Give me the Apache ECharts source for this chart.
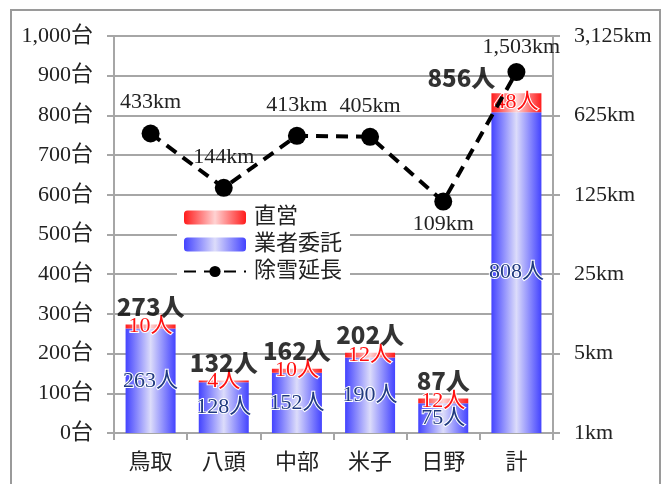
<!DOCTYPE html>
<html>
<head>
<meta charset="utf-8">
<script src="https://cdn.jsdelivr.net/npm/echarts@6/dist/echarts.min.js"></script>
<style>
  html, body { margin: 0; padding: 0; background: #fff; }
  #chart { width: 671px; height: 484px; }
</style>
</head>
<body>
<div id="chart"></div>
<script>
// Snow removal: vehicles by contract type per district, plus plowed road length
const districts = ['鳥取', '八頭', '中部', '米子', '日野', '計'];
const contracted = [263, 128, 152, 190, 75, 808];   // 業者委託
const direct = [10, 4, 10, 12, 12, 48];             // 直営
const roadKm = [433, 144, 413, 405, 109, 1503];     // 除雪延長
const leftTicks = [0, 100, 200, 300, 400, 500, 600, 700, 800, 900, 1000];
const rightTicks = [1, 5, 25, 125, 625, 3125];

const totals = districts.map((_, i) => contracted[i] + direct[i]);

const serif = '"Liberation Serif", "DejaVu Serif", "Noto Sans CJK JP", serif';
const gothic = '"Noto Sans CJK JP", "DejaVu Sans", sans-serif';
const fmt = v => Number(v).toLocaleString('en-US');
const gray = '#a6a6a6';

function hGrad(edge, mid) {
  return new echarts.graphic.LinearGradient(0, 0, 1, 0, [
    { offset: 0, color: edge },
    { offset: 0.5, color: mid },
    { offset: 1, color: edge }
  ]);
}

const chart = echarts.init(document.getElementById('chart'), null, { renderer: 'canvas' });

chart.setOption({
  animation: false,
  backgroundColor: '#fff',
  graphic: [{
    type: 'rect',
    shape: { x: 11, y: 10, width: 649, height: 500 },
    style: { fill: 'none', stroke: '#9a9a9a', lineWidth: 2 },
    silent: true,
    z: 0
  }],
  grid: { left: 114, right: 118, top: 36, bottom: 51, containLabel: false },
  legend: {
    left: 177,
    top: 202,
    orient: 'vertical',
    backgroundColor: '#fff',
    padding: [3, 8, 3, 6],
    itemWidth: 62,
    itemHeight: 14,
    itemGap: 2,
    textStyle: { fontFamily: serif, fontSize: 22, color: '#222', lineHeight: 25, padding: [0, 0, 0, 3] },
    data: [
      { name: '直営' },
      { name: '業者委託' },
      { name: '除雪延長' }
    ]
  },
  xAxis: {
    type: 'category',
    data: districts,
    axisLine: { show: true, lineStyle: { color: gray, width: 2 } },
    axisTick: { show: true, length: 7, lineStyle: { color: gray, width: 2 } },
    axisLabel: { fontFamily: gothic, fontSize: 22, color: '#222', margin: 17 }
  },
  yAxis: [
    {
      type: 'value',
      min: 0,
      max: 1000,
      interval: 100,
      axisLine: { show: true, lineStyle: { color: gray, width: 2 } },
      axisTick: { show: true, length: 7, lineStyle: { color: gray, width: 2 } },
      splitLine: { show: true, lineStyle: { color: gray, width: 2 } },
      axisLabel: {
        fontFamily: serif, fontSize: 22, color: '#222', margin: 21,
        formatter: v => leftTicks.includes(v) ? fmt(v) + '台' : ''
      }
    },
    {
      type: 'log',
      logBase: 5,
      min: 1,
      max: 3125,
      position: 'right',
      axisLine: { show: true, lineStyle: { color: gray, width: 2 } },
      axisTick: { show: true, length: 7, lineStyle: { color: gray, width: 2 } },
      splitLine: { show: false },
      axisLabel: {
        fontFamily: serif, fontSize: 22, color: '#222', margin: 21,
        formatter: v => rightTicks.includes(Math.round(v)) ? fmt(Math.round(v)) + 'km' : ''
      }
    }
  ],
  series: [
    {
      name: '業者委託',
      type: 'bar',
      stack: 'cars',
      barWidth: 50,
      data: contracted,
      itemStyle: { color: hGrad('#4343ff', '#dcdcfa') },
      label: {
        show: true, position: 'inside',
        formatter: p => p.value + '人',
        fontFamily: serif, fontSize: 22, color: '#203a80',
        textBorderColor: '#fff', textBorderWidth: 2
      },
      z: 2
    },
    {
      name: '直営',
      type: 'bar',
      stack: 'cars',
      barWidth: 50,
      data: direct,
      itemStyle: { color: hGrad('#ff1c1c', '#ffd2d2') },
      label: {
        show: true, position: 'inside',
        formatter: p => p.value + '人',
        fontFamily: serif, fontSize: 22, color: '#ff1010',
        textBorderColor: '#fff', textBorderWidth: 2
      },
      z: 2
    },
    {
      name: '合計',
      type: 'scatter',
      yAxisIndex: 0,
      symbolSize: 0,
      silent: true,
      data: totals.map((v, i) => ({
        value: v,
        label: i === totals.length - 1 ? { offset: [-55, 3] } : {}
      })),
      label: {
        show: true, position: 'top', distance: 6,
        formatter: p => p.value + '人',
        fontFamily: gothic, fontWeight: 900, fontSize: 24, color: '#000'
      },
      z: 5
    },
    {
      name: '除雪延長',
      type: 'line',
      yAxisIndex: 1,
      data: roadKm.map((v, i) => ({
        value: v,
        label: v === 109 ? { position: 'bottom', distance: 3 }
             : i === roadKm.length - 1 ? { distance: 5, offset: [5, 0] } : {}
      })),
      symbol: 'circle',
      symbolSize: 18,
      itemStyle: { color: '#000' },
      lineStyle: { color: '#000', width: 4, type: [12, 8] },
      label: {
        show: true, position: 'top', distance: 11,
        formatter: p => fmt(p.value) + 'km',
        fontFamily: serif, fontSize: 22, color: '#222'
      },
      z: 4
    }
  ]
});
</script>
</body>
</html>
